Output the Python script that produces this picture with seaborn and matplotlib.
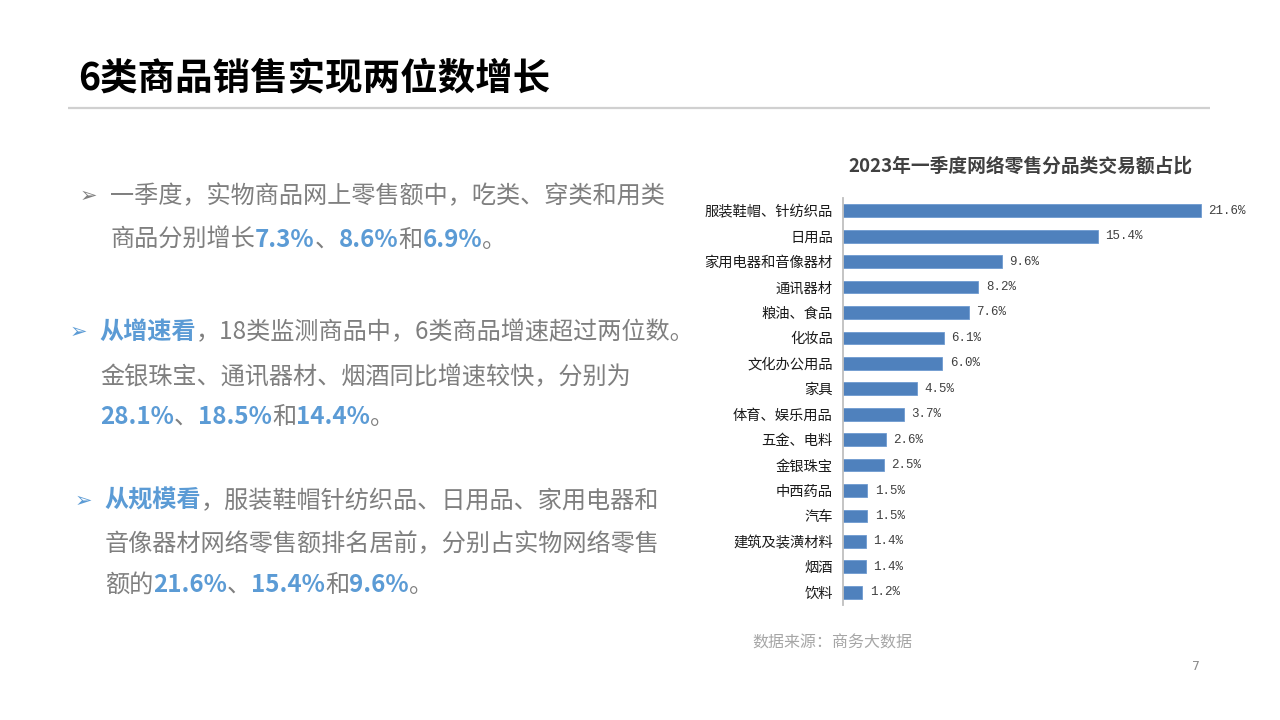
import matplotlib
matplotlib.use("Agg")
import matplotlib.pyplot as plt
import seaborn as sns
import pandas as pd

# ---------------- data ----------------
categories = ["服装鞋帽、针纺织品", "日用品", "家用电器和音像器材", "通讯器材", "粮油、食品",
              "化妆品", "文化办公用品", "家具", "体育、娱乐用品", "五金、电料", "金银珠宝",
              "中西药品", "汽车", "建筑及装潢材料", "烟酒", "饮料"]
shares = [21.6, 15.4, 9.6, 8.2, 7.6, 6.1, 6.0, 4.5, 3.7, 2.6, 2.5, 1.5, 1.5, 1.4, 1.4, 1.2]
value_labels = [f"{v:.1f}%" for v in shares]

page_title = "6类商品销售实现两位数增长"
chart_title = "2023年一季度网络零售分品类交易额占比"
source_text = "数据来源：商务大数据"
page_number = "7"

GRAY = "#7f7f7f"
BLUE = "#5b9bd5"
BAR = "#4f81bd"

# Paragraph pieces: (text, highlighted)
para1_l1 = [("一季度，实物商品网上零售额中，吃类、穿类和用类", False)]
para1_l2 = [("商品分别增长", False), ("7.3%", True), ("、", False), ("8.6%", True),
            ("和", False), ("6.9%", True), ("。", False)]
para2_l1 = [("从增速看", True), ("，18类监测商品中，6类商品增速超过两位数。", False)]
para2_l2 = [("金银珠宝、通讯器材、烟酒同比增速较快，分别为", False)]
para2_l3 = [("28.1%", True), ("、", False), ("18.5%", True), ("和", False),
            ("14.4%", True), ("。", False)]
para3_l1 = [("从规模看", True), ("，服装鞋帽针纺织品、日用品、家用电器和", False)]
para3_l2 = [("音像器材网络零售额排名居前，分别占实物网络零售", False)]
para3_l3 = [("额的", False), ("21.6%", True), ("、", False), ("15.4%", True), ("和", False),
            ("9.6%", True), ("。", False)]

# ---------------- style ----------------
sns.set_theme(style="white")
CJK = ["Noto Sans CJK SC", "DejaVu Sans"]
plt.rcParams["font.family"] = CJK

fig = plt.figure(figsize=(12.8, 7.2), dpi=100)
fig.patch.set_facecolor("white")

# overlay axes in pixel coordinates
ov = fig.add_axes([0, 0, 1, 1], zorder=0)
ov.set_xlim(0, 1280)
ov.set_ylim(720, 0)
ov.axis("off")

# page title + rule
ov.text(78, 78, page_title, fontsize=27, fontweight="bold", color="black",
        va="center", ha="left", family=CJK)
ov.plot([68, 1210], [107.5, 107.5], color="#d0d0d0", lw=1.6, solid_capstyle="butt")

renderer = fig.canvas.get_renderer()


def draw_line(x, y, pieces, size=17.4):
    for txt, hl in pieces:
        t = ov.text(x, y, txt, fontsize=size, color=BLUE if hl else GRAY,
                    fontweight="bold" if hl else "normal", va="center", ha="left",
                    family=CJK)
        bb = t.get_window_extent(renderer=renderer)
        x += bb.width


# bullets
ov.text(80, 196, "➢", fontsize=15, color=GRAY, va="center", ha="left", family=["DejaVu Sans"])
ov.text(70, 332, "➢", fontsize=15, color=BLUE, va="center", ha="left", family=["DejaVu Sans"])
ov.text(75, 501, "➢", fontsize=15, color=BLUE, va="center", ha="left", family=["DejaVu Sans"])

draw_line(110, 196, para1_l1)
draw_line(110, 240, para1_l2)
draw_line(99, 332, para2_l1)
draw_line(100, 377, para2_l2)
draw_line(100, 417, para2_l3)
draw_line(104, 501, para3_l1)
draw_line(105, 544, para3_l2)
draw_line(105, 585, para3_l3)

# source + page number
ov.text(752, 643, source_text, fontsize=11.5, color="#a6a6a6", va="center", ha="left",
        family=CJK, style="italic")
ov.text(1196, 666, page_number, fontsize=9, color="#8c8c8c", va="center", ha="center",
        family=["DejaVu Sans"])

# chart title
ov.text(1020, 166, chart_title, fontsize=13.5, fontweight="bold", color="#404040",
        va="center", ha="center", family=CJK)

# ---------------- bar chart ----------------
df = pd.DataFrame({"category": categories, "share": shares})
ax = fig.add_axes([842.5 / 1280, 1 - 605 / 720, 398 / 1280, 407 / 720], zorder=1)
ax.patch.set_alpha(0)
sns.barplot(data=df, x="share", y="category", orient="h", color=BAR, width=0.5,
            saturation=1, ax=ax, edgecolor="#6f9bd0", linewidth=0.6)
ax.set_xlim(0, 24)
ax.set_ylim(len(categories) - 0.5, -0.5)
ax.set_xlabel("")
ax.set_ylabel("")
ax.set_xticks([])
for s in ["top", "right", "bottom"]:
    ax.spines[s].set_visible(False)
ax.spines["left"].set_color("#bfbfbf")
ax.spines["left"].set_linewidth(1.3)
ax.tick_params(axis="y", length=0, pad=7, labelsize=10.3, labelcolor="#1a1a1a")
for lab in ax.get_yticklabels():
    lab.set_family(CJK)

ax.bar_label(ax.containers[0], labels=value_labels, padding=5.5, fontsize=9,
             color="#404040", family=["Liberation Mono", "DejaVu Sans Mono"])

fig.savefig("out.png", dpi=100, facecolor="white")
